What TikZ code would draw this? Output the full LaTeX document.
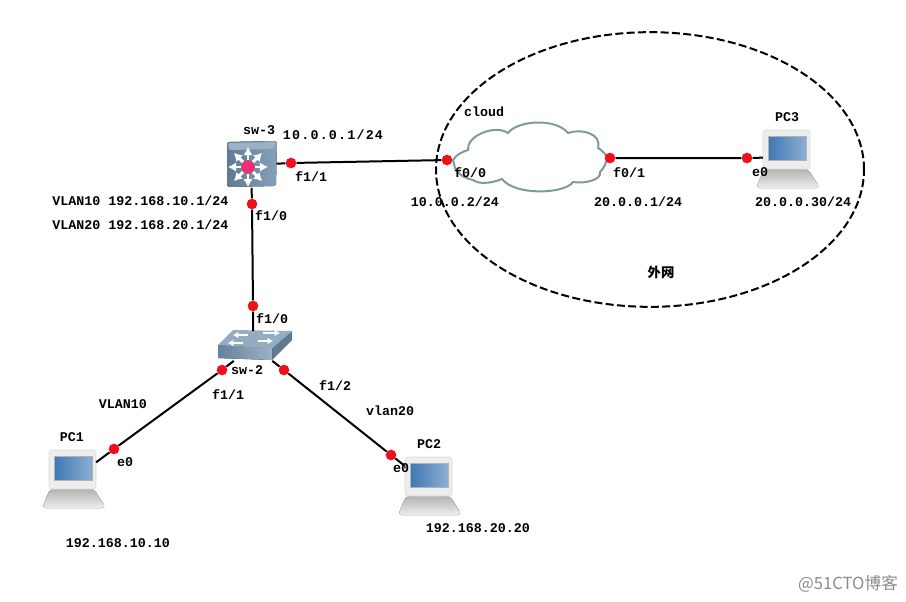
\documentclass[tikz,border=0pt]{standalone}
\usepackage{fontspec}
\setmainfont{Liberation Mono}[BoldFont={* Bold}]
\newfontfamily\cjk{Noto Sans CJK SC}
\usepackage{tikz}
\usetikzlibrary{arrows.meta,shapes.geometric}
\definecolor{cport}{HTML}{F0101A}
\definecolor{csteel}{HTML}{7190AE}
\definecolor{cscreen}{HTML}{3F78B4}
\definecolor{ccloud}{HTML}{7F9A9C}
\definecolor{cmark}{HTML}{8C8C8C}

\begin{document}
\begin{tikzpicture}[
    x=0.75pt, y=-0.75pt,
    lbl/.style={font=\bfseries\fontsize{10}{12}\selectfont, text=black, inner sep=0pt},
    port/.style={circle, fill=cport, draw=none, minimum size=8pt, inner sep=0pt},
    link/.style={draw=black, line width=1.5pt},
    devbox/.style={draw=none, inner sep=0pt, minimum width=#1},
    pcicon/.pic={
      % base
      \fill[top color=black!30, bottom color=black!7, rounded corners=3pt]
        (-22,19) -- (22,19) -- (34,38) -- (-30,38) -- cycle;
      % monitor
      \fill[black!7, draw=black!14, rounded corners=2pt] (-23,-20) rectangle (24,19);
      \fill[left color=cscreen, right color=cscreen!60!white, draw=black!30] (-18,-14) rectangle (20,10);
      \node[devbox=35pt, minimum height=29pt] (-box) at (0.5,0) {};
    },
  ]
  \useasboundingbox (0,0) rectangle (906,601);
  \fill[white] (0,0) rectangle (906,601);

  % the outer network
  \node[draw=black, dash pattern=on 6pt off 2.5pt, line width=1.5pt, ellipse, minimum width=321pt, minimum height=206pt, inner sep=0pt]
    (wan) at (650,169.5) {};

  % cloud
  \draw[draw=ccloud, fill=white, line width=1.5pt]
    (453,160) .. controls (457,154) and (462,152) .. (468,150)
    .. controls (466,136) and (495,124) .. (508,133)
    .. controls (518,120) and (556,118) .. (568,133)
    .. controls (582,128) and (602,134) .. (598,148)
    .. controls (602,150) and (605,154) .. (607,157)
    .. controls (607,162) and (604,168) .. (600,172)
    .. controls (602,180) and (584,184) .. (573,182)
    .. controls (565,194) and (515,196) .. (502,179)
    .. controls (490,184) and (478,184) .. (473,180)
    .. controls (464,178) and (458,174) .. (455,168)
    -- cycle;

  % multilayer switch
  \node[devbox=38pt, minimum height=34pt] (sw3) at (251,165) {};
  \fill[left color=csteel!85!black, right color=csteel!85!white, rounded corners=2pt]
    (227,142) -- (277,141) -- (276,186) -- (227,187) -- cycle;
  \fill[csteel!70!white, rounded corners=1pt] (228,143) -- (276,142) -- (274,149) -- (229,150) -- cycle;
  \foreach \a in {0,45,...,315}
    \draw[white, line width=2.2pt, -{Latex[length=6pt,width=7pt]}]
      (248,167) ++(\a:7) -- ++(\a:13);
  \fill[magenta!60!red!85!white] (248,167) circle[radius=5pt];

  % switch
  \node[devbox=52pt, minimum height=22pt] (sw2) at (253,346) {};
  \fill[csteel!85!black] (272,348) -- (292,331) -- (292,340) -- (272,360) -- cycle;
  \fill[left color=csteel!90!black, right color=csteel!70!white] (218,345) -- (272,348) -- (272,360) -- (218,358) -- cycle;
  \fill[csteel!75!white] (218,345) -- (233,330) -- (292,331) -- (272,348) -- cycle;
  \draw[white, line width=1.5pt, -{Latex[length=4pt,width=5pt]}] (248,335) -- (233,335);
  \draw[white, line width=1.5pt, -{Latex[length=4pt,width=5pt]}] (263,333) -- (280,333);
  \draw[white, line width=1.5pt, -{Latex[length=4pt,width=5pt]}] (243,343) -- (228,343);
  \draw[white, line width=1.5pt, -{Latex[length=4pt,width=5pt]}] (258,341) -- (273,341);

  % hosts
  \pic (pc1) at (72,470) {pcicon};
  \pic (pc2) at (428,477) {pcicon};
  \pic (pc3) at (786,150) {pcicon};

  % ports
  \node[port] (sw3e) at (291,163) {};
  \node[port] (cldw) at (447,160) {};
  \node[port] (clde) at (610,158) {};
  \node[port] (pc3w) at (747,158) {};
  \node[port] (sw3s) at (252,204) {};
  \node[port] (sw2n) at (253,306) {};
  \node[port] (sw2w) at (222,370) {};
  \node[port] (pc1e) at (114,449) {};
  \node[port] (sw2e) at (284,370) {};
  \node[port] (pc2w) at (391,455) {};

  % links
  \draw[link] (sw3) -- (sw3e) -- (cldw);
  \draw[link] (clde) -- (pc3w) -- (pc3-box.198);
  \draw[link] (sw3) -- (sw3s) -- (sw2n) -- (sw2);
  \draw[link] (sw2) -- (sw2w) -- (pc1e) -- (pc1-box.18);
  \draw[link] (sw2) -- (sw2e) -- (pc2w) -- (pc2-box.155);

  % labels
  \node[lbl] (lsw3) at (259,130) {sw-3};
  \node[lbl] (lip31) at (333,135) {\addfontfeature{LetterSpace=9}10.0.0.1/24};
  \node[lbl] (lf11a) at (311,177) {f1/1};
  \node[lbl, anchor=west] (lv10) at (52,201) {VLAN10 192.168.10.1/24};
  \node[lbl, anchor=west] (lv20) at (52,225) {VLAN20 192.168.20.1/24};
  \node[lbl] (lf10a) at (271,216) {f1/0};
  \node[lbl] (lf10b) at (272,319) {f1/0};
  \node[lbl] (lsw2) at (247,370) {sw-2};
  \node[lbl] (lf11b) at (228,395) {f1/1};
  \node[lbl] (lf12) at (335,386) {f1/2};
  \node[lbl] (lvl10) at (123,404) {VLAN10};
  \node[lbl] (lvl20) at (390,411) {vlan20};
  \node[lbl] (lpc1) at (72,437) {PC1};
  \node[lbl] (le01) at (125,462) {e0};
  \node[lbl] (lpc2) at (429,444) {PC2};
  \node[lbl] (le02) at (401,468) {e0};
  \node[lbl] (lip1) at (118,543) {192.168.10.10};
  \node[lbl] (lip2) at (478,528) {192.168.20.20};
  \node[lbl] (lcld) at (484,112) {cloud};
  \node[lbl] (lf00) at (470,173) {f0/0};
  \node[lbl] (lf01) at (629,173) {f0/1};
  \node[lbl] (lip00) at (455,202) {10.0.0.2/24};
  \node[lbl] (lip01) at (638,202) {20.0.0.1/24};
  \node[lbl] (lpc3) at (787,117) {PC3};
  \node[lbl] (le03) at (760,172) {e0};
  \node[lbl] (lip3) at (803,202) {20.0.0.30/24};
  \node[lbl, font=\cjk\bfseries\fontsize{10}{12}\selectfont] (lwan) at (661,272) {外网};
  \node[lbl, font=\cjk\fontsize{12.5}{14}\selectfont, text=cmark] (lmark) at (848,584) {@51CTO博客};
\end{tikzpicture}
\end{document}
